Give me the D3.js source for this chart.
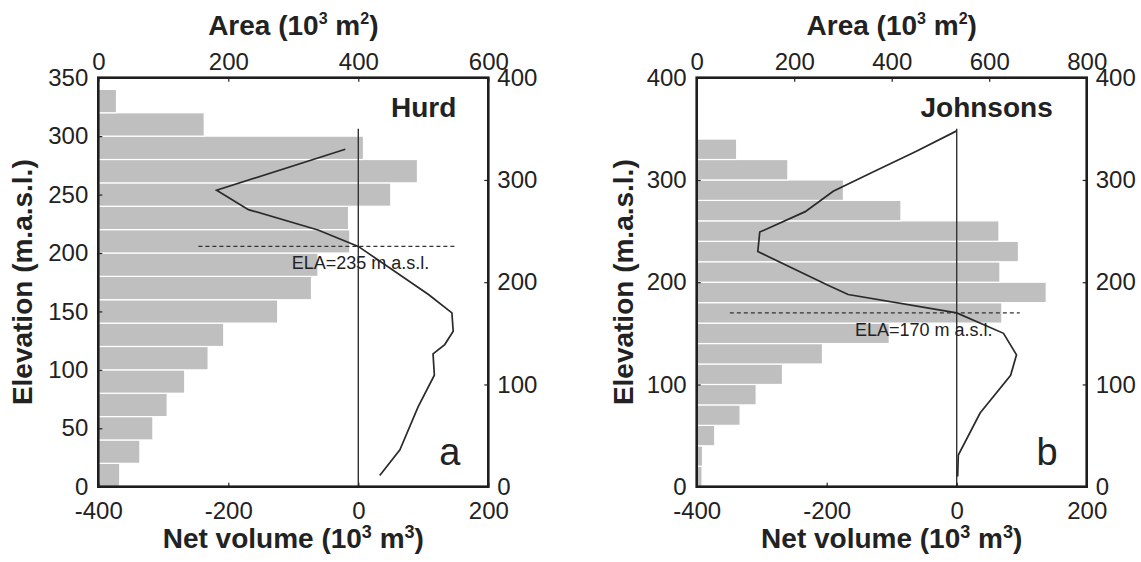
<!DOCTYPE html>
<meta charset="utf-8">
<style>

body {
  margin: 0;
  background: #fff;
}

svg {
  font-family: "Liberation Sans", Arial, sans-serif;
}

.bar {
  fill: #bfbfbf;
  stroke: #fff;
  stroke-width: 1.2px;
}

.profile {
  fill: none;
  stroke: #2a2a2a;
  stroke-width: 1.7px;
}

.zero {
  stroke: #333;
  stroke-width: 1.4px;
}

.ela {
  stroke: #333;
  stroke-width: 1.4px;
  stroke-dasharray: 4,3;
}

.frame {
  fill: none;
  stroke: #1e1e1e;
  stroke-width: 2.6px;
}

.axis text {
  font-size: 24px;
  fill: #222;
}

.axis line {
  stroke: #222;
  stroke-width: 1.2px;
}

.title {
  font-size: 28px;
  font-weight: bold;
  fill: #222;
}

</style>
<svg width="1141" height="562"></svg>
<script src="https://d3js.org/d3.v7.min.js"></script>
<script>

// 20 m elevation bins (bottom of each bin)
var binBottoms = [0, 20, 40, 60, 80, 100, 120, 140, 160, 180, 200, 220, 240, 260, 280, 300, 320];

// area per bin, 10^3 m2
var hurdArea = [33, 64, 84, 106, 133, 169, 193, 276, 328, 338, 387, 385, 450, 491, 408, 163, 28];
var johnsonsArea = [11, 12, 37, 89, 122, 176, 258, 395, 626, 717, 622, 660, 620, 419, 301, 187, 82];

// net volume profiles, 10^3 m3 against elevation (m a.s.l.)
var hurdElev = [11, 36, 78, 109, 130, 139, 152, 170, 188, 235, 251, 271, 290, 330];
var hurdNet = [33, 64, 92, 117, 115, 133, 146, 144, 108, 0, -62, -169, -218, -20];

var johnsonsElev = [10, 31, 72, 109, 129, 150, 170, 188, 197, 230, 249, 269, 289, 308, 328, 348];
var johnsonsNet = [1.5, 2.5, 36, 83, 92, 72, 0, -167, -198, -306, -303, -233, -190, -128, -62, 0];

// tick labels
var netTicks = [-400, -200, 0, 200];
var hurdAreaTicks = [0, 200, 400, 600];
var johnsonsAreaTicks = [0, 200, 400, 600, 800];
var hurdElevTicks = [0, 50, 100, 150, 200, 250, 300, 350];
var elevTicks = [0, 100, 200, 300, 400];

var svg = d3.select("svg"),
    width = 390,
    height = 409,
    plain = function(d) { return String(d); };   // keep the hyphen minus

function drawPanel(p) {
  var g = svg.append("g").attr("transform", "translate(" + p.left + "," + p.top + ")");

  var xArea = d3.scaleLinear().domain([0, p.areaMax]).range([0, width]),
      xNet = d3.scaleLinear().domain([-400, 200]).range([0, width]),
      yBar = d3.scaleLinear().domain([0, p.barElevMax]).range([height, 0]),
      yLine = d3.scaleLinear().domain([0, 400]).range([height, 0]);

  g.selectAll(".bar")
      .data(p.area)
    .enter().append("rect")
      .attr("class", "bar")
      .attr("x", 0)
      .attr("y", function(d, i) { return yBar(binBottoms[i] + 20); })
      .attr("width", function(d) { return xArea(d); })
      .attr("height", function(d, i) { return yBar(binBottoms[i]) - yBar(binBottoms[i] + 20); });

  g.append("line")
      .attr("class", "zero")
      .attr("x1", xNet(0)).attr("x2", xNet(0))
      .attr("y1", yLine(0)).attr("y2", yLine(350));

  g.append("line")
      .attr("class", "ela")
      .attr("x1", xNet(p.elaFrom)).attr("x2", xNet(p.elaTo))
      .attr("y1", yLine(p.ela)).attr("y2", yLine(p.ela));

  var line = d3.line()
      .x(function(d) { return xNet(d[1]); })
      .y(function(d) { return yLine(d[0]); });

  g.append("path")
      .datum(d3.zip(p.elev, p.net))
      .attr("class", "profile")
      .attr("d", line);

  g.append("text")
      .attr("x", p.elaTextX)
      .attr("y", yLine(p.ela) + 23)
      .attr("font-size", 18)
      .attr("fill", "#222")
      .text("ELA=" + p.ela + " m a.s.l.");

  g.append("text")
      .attr("x", p.nameX)
      .attr("y", 39)
      .attr("text-anchor", "end")
      .attr("class", "title")
      .text(p.name);

  g.append("text")
      .attr("x", p.letterX)
      .attr("y", 387)
      .attr("text-anchor", "end")
      .attr("font-size", 38)
      .attr("fill", "#222")
      .text(p.letter);

  // axes, ticks pointing inward
  g.append("g")
      .attr("class", "axis")
      .attr("transform", "translate(0," + height + ")")
      .call(d3.axisBottom(xNet).tickValues(netTicks).tickFormat(plain).tickSize(-4).tickPadding(15));

  g.append("g")
      .attr("class", "axis")
      .call(d3.axisTop(xArea).tickValues(p.areaTicks).tickFormat(plain).tickSize(-4).tickPadding(8));

  g.append("g")
      .attr("class", "axis")
      .call(d3.axisLeft(yBar).tickValues(p.leftTicks).tickFormat(plain).tickSize(-4).tickPadding(10));

  g.append("g")
      .attr("class", "axis")
      .attr("transform", "translate(" + width + ",0)")
      .call(d3.axisRight(yLine).tickValues(elevTicks).tickFormat(plain).tickSize(-4).tickPadding(9));

  g.selectAll(".axis .domain").remove();
  g.selectAll(".axis text").attr("font-size", null).attr("font-family", null);

  g.append("rect")
      .attr("class", "frame")
      .attr("width", width)
      .attr("height", height);

  // axis titles
  var top = g.append("text")
      .attr("class", "title")
      .attr("x", width / 2)
      .attr("y", -43)
      .attr("text-anchor", "middle");
  top.append("tspan").text("Area (10");
  top.append("tspan").attr("font-size", 16).attr("dy", -11).text("3");
  top.append("tspan").attr("dy", 11).text(" m");
  top.append("tspan").attr("font-size", 16).attr("dy", -11).text("2");
  top.append("tspan").attr("dy", 11).text(")");

  var bottom = g.append("text")
      .attr("class", "title")
      .attr("x", width / 2)
      .attr("y", 470)
      .attr("text-anchor", "middle");
  bottom.append("tspan").text("Net volume (10");
  bottom.append("tspan").attr("font-size", 18).attr("dy", -10).text("3");
  bottom.append("tspan").attr("dy", 10).text(" m");
  bottom.append("tspan").attr("font-size", 18).attr("dy", -10).text("3");
  bottom.append("tspan").attr("dy", 10).text(")");

  g.append("text")
      .attr("class", "title")
      .attr("transform", "translate(" + p.elevTitleX + "," + (height / 2) + ")rotate(-90)")
      .attr("text-anchor", "middle")
      .text("Elevation (m.a.s.l.)");
}

drawPanel({
  left: 98.3, top: 77.7,
  name: "Hurd", nameX: 358, letter: "a", letterX: 362,
  area: hurdArea, areaMax: 600, areaTicks: hurdAreaTicks,
  barElevMax: 350, leftTicks: hurdElevTicks,
  elev: hurdElev, net: hurdNet,
  ela: 235, elaFrom: -246, elaTo: 150, elaTextX: 193.4,
  elevTitleX: -66
});

drawPanel({
  left: 696.7, top: 77.7,
  name: "Johnsons", nameX: 356, letter: "b", letterX: 361,
  area: johnsonsArea, areaMax: 800, areaTicks: johnsonsAreaTicks,
  barElevMax: 400, leftTicks: elevTicks,
  elev: johnsonsElev, net: johnsonsNet,
  ela: 170, elaFrom: -349, elaTo: 97, elaTextX: 158.3,
  elevTitleX: -64
});

</script>
